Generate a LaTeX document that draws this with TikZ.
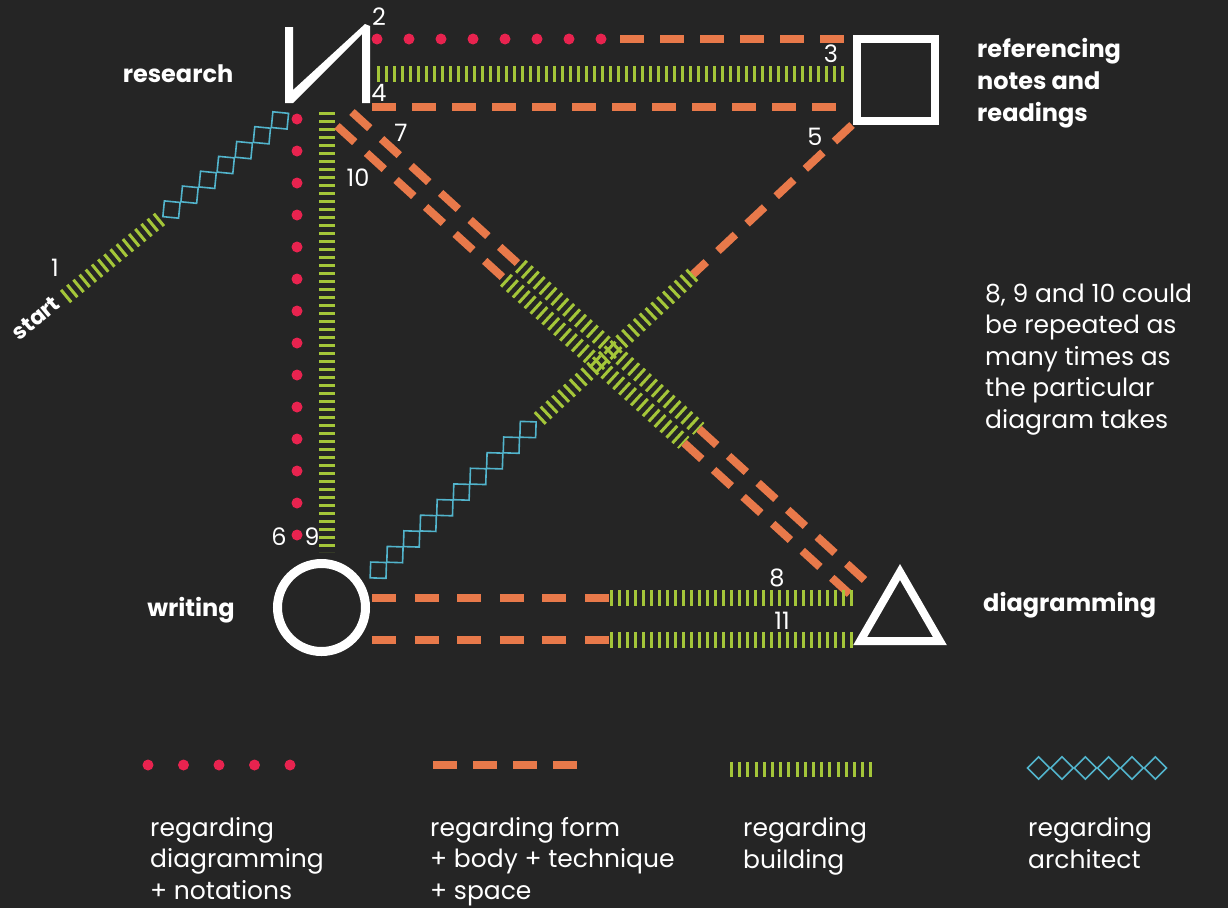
\documentclass[tikz,border=0pt]{standalone}
\usepackage{fontspec}
\setmainfont{Poppins}
\usepackage{xcolor}
\usetikzlibrary{shapes.geometric,calc}
\definecolor{bgdark}{HTML}{252525}
\definecolor{notered}{HTML}{E8234F}
\definecolor{formorange}{HTML}{E8794A}
\definecolor{buildgreen}{HTML}{A4C639}
\definecolor{archblue}{HTML}{52B4CC}
\newcommand{\archchain}[3]{%
  \foreach \k [evaluate=\k as \p using (\k-0.5)/#3] in {1,...,#3}
    {\path (#1) -- (#2) node[architect,pos=\p] {};}}

\begin{document}
\begin{tikzpicture}[x=1pt,y=-1pt]
  \tikzset{every node/.style={text=white,inner sep=0pt}}
  \tikzset{num/.style={font=\fontsize{24}{30}\selectfont}}
  \tikzset{caption/.style={font=\fontsize{24}{32}\selectfont\bfseries,align=left}}
  \tikzset{note/.style={font=\fontsize{25}{31.5}\selectfont,align=left}}
  \tikzset{place/.style={draw=white,line width=8pt}}
  \tikzset{notation/.style={draw=notered,line width=11pt,line cap=round,dash pattern=on 0pt off 32pt}}
  \tikzset{form/.style={draw=formorange,line width=8pt,dash pattern=on 24pt off 16pt}}
  \tikzset{building/.style={draw=buildgreen,line width=16pt,dash pattern=on 3pt off 5pt}}
  \tikzset{architect/.style={shape=diamond,draw=archblue,line width=1.6pt,minimum size=23pt,sloped}}

  \fill[bgdark] (0,0) rectangle (1228,908);
  \useasboundingbox (0,0) rectangle (1228,908);

  % vertices
  \fill[white] (285,27) -- (293,27) -- (293,90) -- (365,24) -- (370,26) -- (370,103)
    -- (362,103) -- (362,34) -- (293,103) -- (285,103) -- cycle;
  \node[place,minimum width=78pt,minimum height=82pt] (refs) at (896,80) {};
  \node[place,circle,line width=9pt,minimum size=88pt] (writ) at (321.5,607.5) {};
  \node[place,regular polygon,regular polygon sides=3,minimum size=92pt] (diag) at (900,618) {};

  \node[caption,anchor=base] (research) at (178,82) {research};
  \node[caption,anchor=base west] (readings) at (977,121) {referencing\\notes and\\readings};
  \node[caption,anchor=base] (writing) at (191,616) {writing};
  \node[caption,anchor=base west] (diagramming) at (983,611) {diagramming};
  \node[caption,font=\fontsize{22}{28}\selectfont\bfseries,rotate=40] (start) at (36,318) {start};

  % step numbers
  \node[num] (n1) at (55,268) {1};
  \node[num] (n2) at (379,17) {2};
  \node[num] (n3) at (831,54) {3};
  \node[num] (n4) at (379,93) {4};
  \node[num] (n5) at (815,137) {5};
  \node[num] (n6) at (279,537) {6};
  \node[num] (n7) at (401,133) {7};
  \node[num] (n8) at (777,578) {8};
  \node[num] (n9) at (312,537) {9};
  \node[num] (n10) at (358,178) {10};
  \node[num] (n11) at (782,621) {11};

  % edges
  \coordinate (s0) at (65,297);
  \coordinate (s2) at (289,113);
  \coordinate (s1) at ($(s0)!0.435!(s2)$);
  \draw[building] (s0) -- (s1);
  \archchain{s1}{s2}{7}

  \coordinate (t0) at (377,39);
  \coordinate (t1) at (602,39);
  \coordinate (t2) at (620,39);
  \coordinate (t3) at (845,39);
  \draw[notation] (t0) -- (t1);
  \draw[form] (t2) -- (t3);

  \coordinate (m0) at (377,74);
  \coordinate (m1) at (845,74);
  \draw[building] (m0) -- (m1);

  \coordinate (b0) at (372,107);
  \coordinate (b1) at (845,107);
  \draw[form] (b0) -- (b1);

  \coordinate (f0) at (852,125);
  \coordinate (f3) at (370,578);
  \coordinate (f1) at ($(f0)!0.33!(f3)$);
  \coordinate (f2) at ($(f0)!0.655!(f3)$);
  \draw[form] (f0) -- (f1);
  \draw[building] (f1) -- (f2);
  \archchain{f2}{f3}{10}

  \coordinate (v0) at (297,119);
  \coordinate (v1) at (297,551);
  \draw[notation] (v0) -- (v1);

  \coordinate (w0) at (327,112);
  \coordinate (w1) at (327,552);
  \draw[building] (w0) -- (w1);

  \foreach \a/\b in {352/112, 337/126}{
    \coordinate (d0) at (\a,\b);
    \coordinate (d3) at ($(d0)+(518,473)$);
    \coordinate (d1) at ($(d0)!0.325!(d3)$);
    \coordinate (d2) at ($(d0)!0.67!(d3)$);
    \draw[form] (d0) -- (d1);
    \draw[building] (d1) -- (d2);
    \draw[form] (d2) -- (d3);
  }

  \foreach \y in {598,640}{
    \coordinate (h0) at (372,\y);
    \coordinate (h1) at (610,\y);
    \coordinate (h2) at (856,\y);
    \draw[form,dash pattern=on 24pt off 18.6pt] (h0) -- (h1);
    \draw[building] (h1) -- (h2);
  }

  % side note
  \node[note,anchor=base west] (repeat) at (985,428)
    {8, 9 and 10 could\\be repeated as\\many times as\\the particular\\diagram takes};

  % legend
  \draw[notation,dash pattern=on 0pt off 35.5pt] (148,765) -- (291,765);
  \draw[form] (433,765) -- (577,765);
  \draw[building,line width=15pt,dash pattern=on 3pt off 5.2pt] (730,769) -- (873,769);
  \coordinate (k0) at (1027,768);
  \coordinate (k1) at (1167,768);
  \archchain{k0}{k1}{6}

  \node[note,anchor=base west] (key1) at (150,899) {regarding\\diagramming\\+ notations};
  \node[note,anchor=base west] (key2) at (430,899) {regarding form\\+ body + technique\\+ space};
  \node[note,anchor=base west] (key3) at (743,868) {regarding\\building};
  \node[note,anchor=base west] (key4) at (1028,868) {regarding\\architect};
\end{tikzpicture}
\end{document}
